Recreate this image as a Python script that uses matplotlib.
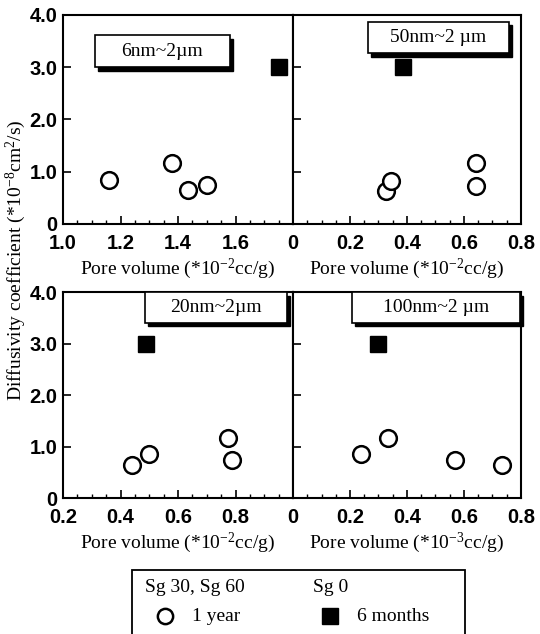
import matplotlib
matplotlib.use("Agg")
import matplotlib.pyplot as plt
from matplotlib.patches import Rectangle
from matplotlib.ticker import MultipleLocator

# panel labels and axis ranges
ranges = ["6nm~2\u00b5m", "50nm~2 \u00b5m", "20nm~2\u00b5m", "100nm~2 \u00b5m"]
xlims = [(1.0, 1.8), (0.0, 0.8), (0.2, 1.0), (0.0, 0.8)]
xlabels = ["Pore volume (*10$^{-2}$cc/g)", "Pore volume (*10$^{-2}$cc/g)",
           "Pore volume (*10$^{-2}$cc/g)", "Pore volume (*10$^{-3}$cc/g)"]

# Sg 30, Sg 60 - 1 year (circles)
year_x = [[1.16, 1.38, 1.435, 1.50],
          [0.325, 0.345, 0.642, 0.642],
          [0.44, 0.50, 0.773, 0.787],
          [0.24, 0.332, 0.568, 0.735]]
year_y = [[0.84, 1.16, 0.65, 0.74],
          [0.64, 0.83, 1.17, 0.73],
          [0.65, 0.85, 1.16, 0.74],
          [0.85, 1.16, 0.74, 0.65]]

# Sg 0 - 6 months (squares)
month_x = [1.75, 0.385, 0.49, 0.30]
month_y = [3.0, 3.0, 3.0, 3.0]

yticks = [0, 1, 2, 3, 4]
yticklabels = ["0", "1.0", "2.0", "3.0", "4.0"]

serif = "Liberation Serif"
sans = "Liberation Sans"
plt.rcParams["mathtext.fontset"] = "custom"
plt.rcParams["mathtext.rm"] = serif
plt.rcParams["mathtext.it"] = serif + ":italic"

fig = plt.figure(figsize=(5.4, 6.34), dpi=100)

left, mid, right = 0.1167, 0.5426, 0.9648
rows = [(0.6467, 0.3297), (0.2145, 0.3249)]
# label box positions (axes fraction)
boxes = [(0.139, 0.751, 0.587, 0.153), (0.328, 0.818, 0.62, 0.149),
         (0.357, 0.85, 0.617, 0.15), (0.259, 0.85, 0.737, 0.15)]

for i in range(4):
    r, c = divmod(i, 2)
    b, h = rows[r]
    x0 = left if c == 0 else mid
    w = (mid - left) if c == 0 else (right - mid)
    ax = fig.add_axes([x0, b, w, h])
    ax.set_xlim(*xlims[i])
    ax.set_ylim(0, 4.0)
    ax.plot(year_x[i], year_y[i], "o", ms=12, mfc="white", mec="black",
            mew=1.8, ls="none", zorder=3)
    ax.plot(month_x[i], month_y[i], "s", ms=11, color="black", ls="none",
            zorder=3)

    ax.xaxis.set_minor_locator(MultipleLocator(0.05))
    ticks = [round(xlims[i][0] + 0.2 * k, 1) for k in range(5)]
    ax.set_xticks(ticks)
    labs = ["0" if t == 0 else f"{t:.1f}" for t in ticks]
    if c == 0:
        labs[-1] = ""
    ax.set_xticklabels(labs, fontfamily=sans, fontweight="bold",
                       fontsize=14.5)
    ax.set_yticks(yticks)
    if c == 0:
        ax.set_yticklabels(yticklabels, fontfamily=sans, fontweight="bold",
                           fontsize=14.5)
    else:
        ax.set_yticklabels([])
    ax.tick_params(direction="in", which="major", length=6, width=1.2,
                   right=False, top=False)
    ax.tick_params(direction="in", which="minor", length=3, width=1.0,
                   right=False, top=False)
    ax.tick_params(axis="x", which="major", pad=7)
    ax.tick_params(axis="y", which="major", pad=4)
    for s in ax.spines.values():
        s.set_linewidth(1.5)
    ax.set_xlabel(xlabels[i], fontfamily=serif, fontsize=14, labelpad=3)

    bx, by, bw, bh = boxes[i]
    ax.add_patch(Rectangle((bx + 0.013, by - 0.017), bw, bh,
                           transform=ax.transAxes, facecolor="black",
                           edgecolor="black", zorder=5, clip_on=False))
    ax.add_patch(Rectangle((bx, by), bw, bh, transform=ax.transAxes,
                           facecolor="white", edgecolor="black", lw=1.2,
                           zorder=6, clip_on=False))
    ax.text(bx + bw / 2, by + bh / 2, ranges[i], transform=ax.transAxes,
            ha="center", va="center", fontfamily=serif, fontsize=14,
            zorder=7)

fig.text(0.03, 0.59, "Diffusivity coefficient (*10$^{-8}$cm$^{2}$/s)",
         rotation=90, ha="center", va="center", fontfamily=serif,
         fontsize=14)

# legend box
fig.patches.append(Rectangle((0.244, -0.01), 0.617, 0.111,
                             transform=fig.transFigure, facecolor="white",
                             edgecolor="black", lw=1.3))
fig.text(0.269, 0.073, "Sg 30, Sg 60", fontfamily=serif, fontsize=14,
         va="center")
fig.text(0.58, 0.073, "Sg 0", fontfamily=serif, fontsize=14, va="center")
fig.lines.append(plt.Line2D([0.306], [0.028], marker="o", ms=11,
                            mfc="white", mec="black", mew=1.8,
                            transform=fig.transFigure))
fig.text(0.355, 0.028, "1 year", fontfamily=serif, fontsize=14, va="center")
fig.lines.append(plt.Line2D([0.612], [0.028], marker="s", ms=11,
                            color="black", transform=fig.transFigure))
fig.text(0.661, 0.028, "6 months", fontfamily=serif, fontsize=14,
         va="center")

fig.savefig("out.png", dpi=100)
